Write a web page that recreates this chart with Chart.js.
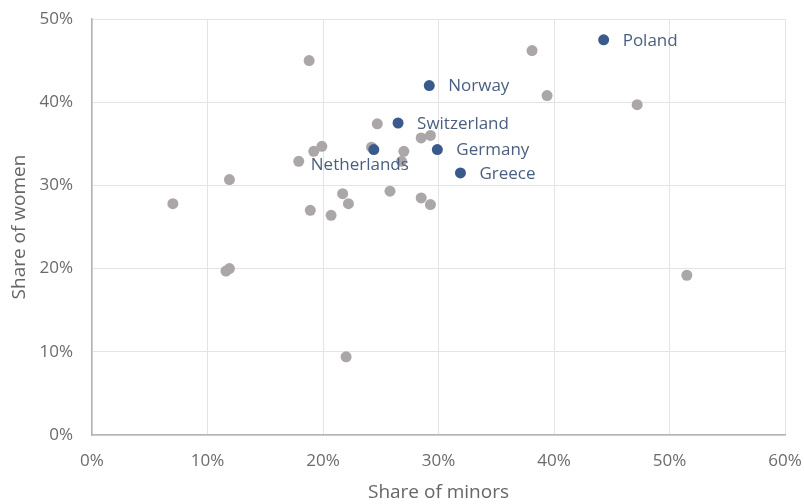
<!DOCTYPE html>
<html>
<head>
<meta charset="utf-8">
<script src="https://cdn.jsdelivr.net/npm/chart.js@4"></script>
<style>
  html, body { margin: 0; padding: 0; background: #ffffff; }
  #wrap { width: 804px; height: 504px; }
</style>
</head>
<body>
<div id="wrap"><canvas id="chart" width="804" height="504"></canvas></div>
<script>
// Share of minors (x) and share of women (y), in percent
const otherMinors = [7.0, 11.9, 18.8, 24.7, 19.9, 19.2, 17.9, 24.2, 21.7, 22.2, 18.9, 20.7, 25.8,
                     28.5, 29.3, 27.0, 26.8, 28.5, 29.3, 38.1, 39.4, 47.2, 51.5, 11.6, 11.9, 22.0];
const otherWomen  = [27.8, 30.7, 45.0, 37.4, 34.7, 34.1, 32.9, 34.6, 29.0, 27.8, 27.0, 26.4, 29.3,
                     28.5, 27.7, 34.1, 32.9, 35.7, 36.0, 46.2, 40.8, 39.7, 19.2, 19.7, 20.0, 9.4];

const countries      = ['Poland', 'Norway', 'Switzerland', 'Germany', 'Greece', 'Netherlands'];
const countryMinors  = [44.3, 29.2, 26.5, 29.9, 31.9, 24.4];
const countryWomen   = [47.5, 42.0, 37.5, 34.3, 31.5, 34.3];

const xTicks = [0, 10, 20, 30, 40, 50, 60];
const yTicks = [0, 10, 20, 30, 40, 50];

// where each country's name sits relative to its marker
const labelPlacement = { Netherlands: 'below' };

const FONT = "'Open Sans', 'Noto Sans', sans-serif";
const BLUE = '#3a5a8c';
const GREY = '#aba7a8';
const LABEL_COLOR = '#4a5f80';

const countryLabels = {
  id: 'countryLabels',
  afterDatasetsDraw(chart) {
    const ctx = chart.ctx;
    const meta = chart.getDatasetMeta(0);
    ctx.save();
    ctx.font = '17px ' + FONT;
    ctx.fillStyle = LABEL_COLOR;
    meta.data.forEach((pt, i) => {
      const name = countries[i];
      if (labelPlacement[name] === 'below') {
        ctx.textAlign = 'center';
        ctx.textBaseline = 'middle';
        ctx.fillText(name, pt.x - 14, pt.y + 16);
      } else {
        ctx.textAlign = 'left';
        ctx.textBaseline = 'middle';
        ctx.fillText(name, pt.x + 19, pt.y + 1);
      }
    });
    ctx.restore();
  }
};

new Chart(document.getElementById('chart'), {
  type: 'scatter',
  data: {
    datasets: [
      {
        label: 'Selected countries',
        data: countryMinors.map((x, i) => ({ x, y: countryWomen[i] })),
        backgroundColor: BLUE,
        borderColor: BLUE,
        pointRadius: 5.5,
        pointBorderWidth: 0
      },
      {
        label: 'Other countries',
        data: otherMinors.map((x, i) => ({ x, y: otherWomen[i] })),
        backgroundColor: GREY,
        borderColor: GREY,
        pointRadius: 5.5,
        pointBorderWidth: 0
      }
    ]
  },
  options: {
    responsive: false,
    animation: false,
    layout: { padding: { top: 19, right: 19, left: 0, bottom: 0 } },
    plugins: {
      legend: { display: false },
      tooltip: { enabled: false }
    },
    scales: {
      x: {
        type: 'linear',
        min: 0, max: 60,
        afterBuildTicks(scale) { scale.ticks = xTicks.map(v => ({ value: v })); },
        afterFit(scale) {
          scale.height = 69;
          scale.paddingLeft = 0;
          scale.paddingRight = 0;
        },
        grid: { color: '#e4e4e4', lineWidth: 1, drawTicks: false },
        border: { color: '#b4b4b4', width: 1.5 },
        ticks: {
          padding: 16,
          color: '#6b6b6b',
          font: { family: FONT, size: 17 },
          callback: v => v + '%'
        },
        title: {
          display: true,
          text: 'Share of minors',
          color: '#666666',
          font: { family: FONT, size: 19 },
          padding: { top: 0, bottom: 0 }
        }
      },
      y: {
        type: 'linear',
        min: 0, max: 50,
        afterBuildTicks(scale) { scale.ticks = yTicks.map(v => ({ value: v })); },
        afterFit(scale) {
          scale.width = 92;
          scale.paddingTop = 0;
          scale.paddingBottom = 0;
        },
        grid: { color: '#e4e4e4', lineWidth: 1, drawTicks: false },
        border: { color: '#b4b4b4', width: 1.5 },
        ticks: {
          padding: 19,
          color: '#6b6b6b',
          font: { family: FONT, size: 17 },
          callback: v => v + '%'
        },
        title: {
          display: true,
          text: 'Share of women',
          color: '#666666',
          font: { family: FONT, size: 19 },
          padding: { top: 8, bottom: 0 }
        }
      }
    }
  },
  plugins: [countryLabels]
});
</script>
</body>
</html>
